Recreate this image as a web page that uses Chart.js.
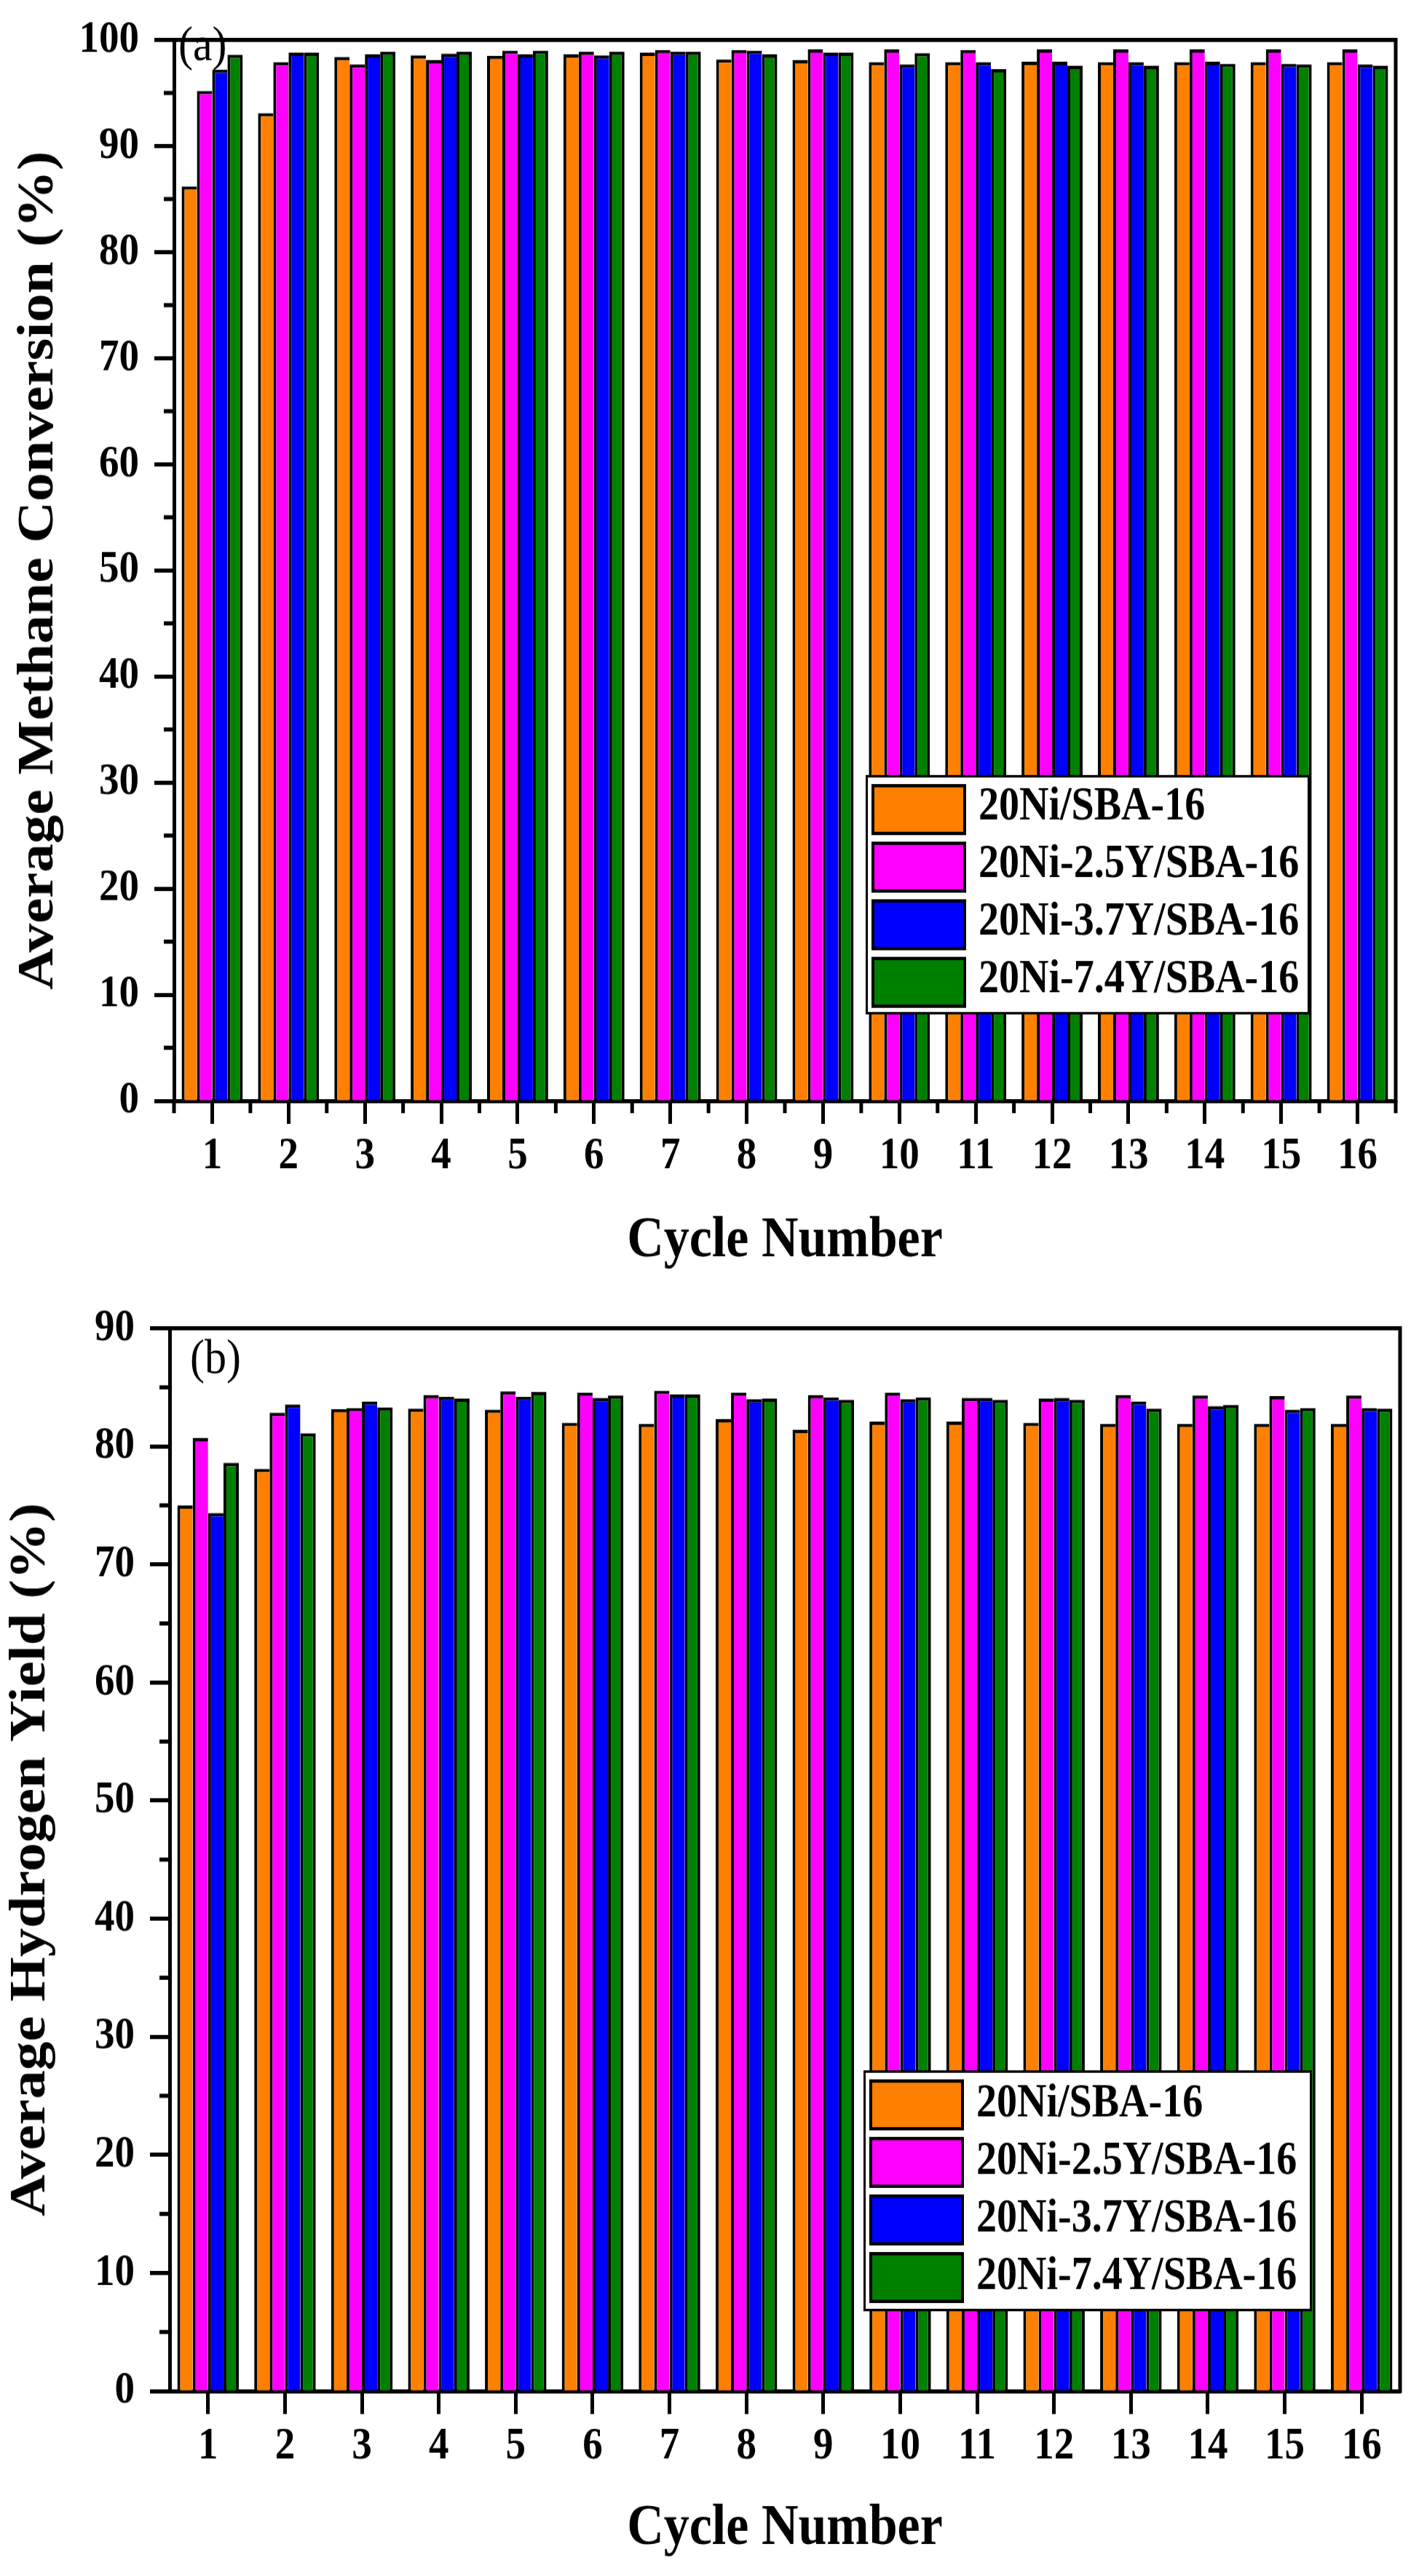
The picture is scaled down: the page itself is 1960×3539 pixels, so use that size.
<!DOCTYPE html>
<html>
<head>
<meta charset="utf-8">
<script src="https://cdn.jsdelivr.net/npm/chart.js@4.4.1/dist/chart.umd.min.js"></script>
<style>
  html, body { margin: 0; padding: 0; background: #fff; overflow: hidden; }
  canvas { display: block; }
</style>
</head>
<body>
<!-- drawn at 1566px high, shown 1770px high: the source figure is stretched vertically -->
<canvas id="methaneChart" width="1960" height="1566" style="width:1960px;height:1770px"></canvas>
<canvas id="hydrogenChart" width="1960" height="1566" style="width:1960px;height:1769px"></canvas>
<script>
const cycleLabels = ['1', '2', '3', '4', '5', '6', '7', '8', '9', '10', '11', '12', '13', '14', '15', '16'];
const seriesNames = ['20Ni/SBA-16', '20Ni-2.5Y/SBA-16', '20Ni-3.7Y/SBA-16', '20Ni-7.4Y/SBA-16'];
const seriesColors = ['#FF8000', '#FF00FF', '#0000FF', '#008000'];

// (a) average methane conversion, %
const methaneNi   = [86.2, 93.1, 98.4, 98.55, 98.5, 98.65, 98.8, 98.15, 98.1, 97.9, 97.9, 97.95, 97.9, 97.9, 97.9, 97.9];
const methaneY25  = [95.2, 97.9, 97.7, 98.1, 99.0, 98.9, 99.05, 99.05, 99.1, 99.1, 99.05, 99.1, 99.1, 99.1, 99.1, 99.1];
const methaneY37  = [97.2, 98.8, 98.65, 98.7, 98.65, 98.55, 98.9, 99.0, 98.8, 97.7, 97.9, 97.95, 97.9, 97.95, 97.75, 97.7];
const methaneY74  = [98.6, 98.8, 98.9, 98.9, 99.0, 98.9, 98.9, 98.65, 98.8, 98.75, 97.25, 97.55, 97.55, 97.75, 97.7, 97.55];

// (b) average hydrogen yield, %
const hydrogenNi  = [75.0, 78.1, 83.15, 83.2, 83.1, 82.0, 81.9, 82.3, 81.4, 82.1, 82.1, 82.0, 81.9, 81.9, 81.9, 81.9];
const hydrogenY25 = [80.7, 82.85, 83.25, 84.35, 84.65, 84.55, 84.7, 84.55, 84.35, 84.55, 84.1, 84.05, 84.35, 84.3, 84.25, 84.3];
const hydrogenY37 = [74.35, 83.55, 83.8, 84.2, 84.2, 84.1, 84.4, 84.0, 84.15, 84.0, 84.1, 84.1, 83.8, 83.4, 83.1, 83.25];
const hydrogenY74 = [78.6, 81.1, 83.3, 84.05, 84.6, 84.3, 84.4, 84.05, 83.95, 84.15, 83.95, 83.95, 83.2, 83.5, 83.25, 83.2];

const methaneTicks  = [0, 10, 20, 30, 40, 50, 60, 70, 80, 90, 100];
const methaneMinor  = [5, 15, 25, 35, 45, 55, 65, 75, 85, 95];
const hydrogenTicks = [0, 10, 20, 30, 40, 50, 60, 70, 80, 90];
const hydrogenMinor = [5, 15, 25, 35, 45, 55, 65, 75, 85];

Chart.defaults.font.family = "'Liberation Serif', 'Times New Roman', serif";
Chart.defaults.color = '#000';

// frame, minor ticks, panel letter and the boxed legend inside the plot
const panelDecor = {
  id: 'panelDecor',
  afterDraw(chart, args, opts) {
    const { ctx, chartArea: a, scales: { x, y } } = chart;
    ctx.save();
    ctx.strokeStyle = '#000';
    ctx.lineWidth = 5;
    ctx.beginPath();
    ctx.moveTo(a.left - 2.5, a.top);
    ctx.lineTo(a.right, a.top);
    ctx.lineTo(a.right, a.bottom + 2.5);
    ctx.stroke();

    opts.minorY.forEach(v => {
      const py = y.getPixelForValue(v);
      ctx.beginPath();
      ctx.moveTo(a.left - 14, py);
      ctx.lineTo(a.left, py);
      ctx.stroke();
    });
    if (opts.minorX) {
      const half = (x.getPixelForValue(1) - x.getPixelForValue(0)) / 2;
      for (let i = 0; i <= chart.data.labels.length; i++) {
        const px = x.getPixelForValue(i) - half;
        ctx.beginPath();
        ctx.moveTo(px, a.bottom);
        ctx.lineTo(px, a.bottom + 15);
        ctx.stroke();
      }
    }

    ctx.fillStyle = '#000';
    ctx.textAlign = 'left';
    ctx.textBaseline = 'middle';
    ctx.font = "60px 'Liberation Serif'";
    ctx.fillText(opts.tag, opts.tagX, opts.tagY);

    const L = opts.legend;
    ctx.fillStyle = '#fff';
    ctx.fillRect(L.x, L.y, L.w, L.h);
    ctx.lineWidth = 3;
    ctx.strokeRect(L.x + 1.5, L.y + 1.5, L.w - 3, L.h - 3);
    ctx.font = "bold 56px 'Liberation Serif'";
    chart.data.datasets.forEach((ds, i) => {
      const sy = L.swatchY + i * L.pitch;
      ctx.fillStyle = ds.backgroundColor;
      ctx.fillRect(L.swatchX, sy, L.swatchW, L.swatchH);
      ctx.lineWidth = 4;
      ctx.strokeRect(L.swatchX + 2, sy + 2, L.swatchW - 4, L.swatchH - 4);
      ctx.fillStyle = '#000';
      ctx.fillText(ds.label, L.textX, L.textY + i * L.pitch);
    });
    ctx.restore();
  }
};

function makePanel(id, series, yTicks, yMinor, yTitle, box, decor) {
  return new Chart(document.getElementById(id), {
    type: 'bar',
    data: {
      labels: cycleLabels,
      datasets: series.map((vals, i) => ({
        label: seriesNames[i],
        data: vals,
        backgroundColor: seriesColors[i],
        borderColor: '#000',
        borderWidth: { top: 4, left: 4, right: i === series.length - 1 ? 4 : 0, bottom: 0 },
        categoryPercentage: 0.8,
        barPercentage: 1.0
      }))
    },
    options: {
      responsive: false,
      devicePixelRatio: 1,
      animation: false,
      events: [],
      layout: { padding: { top: 28, right: box.right, left: 0, bottom: 0 } },
      plugins: {
        legend: { display: false },
        tooltip: { enabled: false },
        panelDecor: Object.assign({ minorY: yMinor }, decor)
      },
      scales: {
        x: {
          offset: true,
          grid: { offset: false, drawOnChartArea: false, drawTicks: true, tickLength: 28, tickWidth: 5, tickColor: '#000' },
          border: { display: true, width: 5, color: '#000' },
          ticks: { font: { size: 55, weight: 'bold', lineHeight: 1 }, color: '#000', padding: 12, autoSkip: false, maxRotation: 0 },
          title: { display: true, text: 'Cycle Number', color: '#000',
                   font: { size: 70, weight: 'bold', lineHeight: 1.2 }, padding: { top: 0, bottom: 15 } },
          afterFit: s => { s.height = box.xHeight; }
        },
        y: {
          min: yTicks[0],
          max: yTicks[yTicks.length - 1],
          afterBuildTicks: s => { s.ticks = yTicks.map(v => ({ value: v })); },
          grid: { drawOnChartArea: false, drawTicks: true, tickLength: 27, tickWidth: 5, tickColor: '#000' },
          border: { display: true, width: 5, color: '#000' },
          ticks: { font: { size: 55, weight: 'bold', lineHeight: 1 }, color: '#000', padding: 21 },
          title: { display: true, text: yTitle, color: '#000',
                   font: { size: 70, weight: 'bold', lineHeight: 1.2 }, padding: { top: box.yTitlePad, bottom: 0 } },
          afterFit: s => { s.width = box.yWidth; }
        }
      }
    },
    plugins: [panelDecor]
  });
}

makePanel('methaneChart',
  [methaneNi, methaneY25, methaneY37, methaneY74],
  methaneTicks, methaneMinor, 'Average Methane Conversion (%)',
  { right: 43, yWidth: 239, xHeight: 228, yTitlePad: 12 },
  { minorX: true, tag: '(a)', tagX: 245, tagY: 57,
    legend: { x: 1189, y: 942, w: 610, h: 291, swatchX: 1197, swatchY: 953, swatchW: 130, swatchH: 62,
              pitch: 70, textX: 1344, textY: 982 } });

makePanel('hydrogenChart',
  [hydrogenNi, hydrogenY25, hydrogenY37, hydrogenY74],
  hydrogenTicks, hydrogenMinor, 'Average Hydrogen Yield (%)',
  { right: 37, yWidth: 233, xHeight: 225, yTitlePad: 1 },
  { minorX: false, tag: '(b)', tagX: 261, tagY: 87,
    legend: { x: 1186, y: 951, w: 616, h: 293, swatchX: 1194, swatchY: 962, swatchW: 130, swatchH: 62,
              pitch: 70, textX: 1341, textY: 993 } });
</script>
</body>
</html>
